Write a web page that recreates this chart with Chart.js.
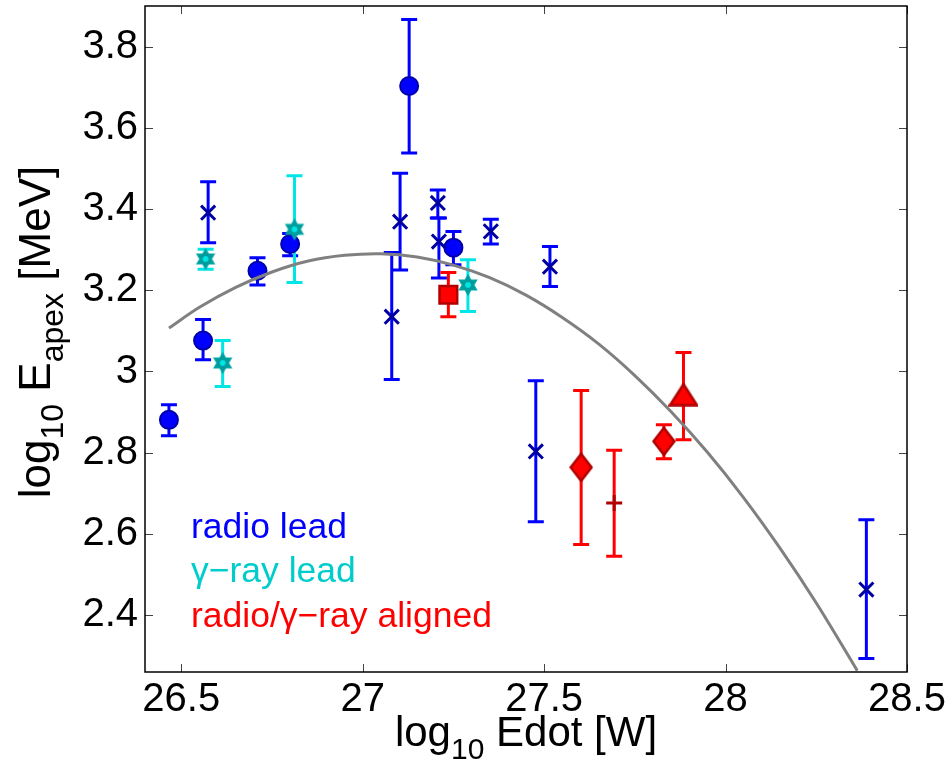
<!DOCTYPE html>
<html><head><meta charset="utf-8">
<script src="https://cdn.jsdelivr.net/npm/chart.js@4/dist/chart.umd.min.js"></script>
<style>html,body{margin:0;padding:0;background:#fff;overflow:hidden}#wrap{width:948px;height:767px;position:relative}</style>
</head><body><div id="wrap"><canvas id="c" width="948" height="767"></canvas></div>
<script>
const FONT = '"Liberation Sans", Arial, Helvetica, sans-serif';

// radio lead: circles
const radioCircX  = [26.466, 26.560, 26.710, 26.800, 27.128, 27.250];
const radioCircY  = [2.881, 3.076, 3.248, 3.314, 3.703, 3.305];
const radioCircLo = [2.842, 3.029, 3.213, 3.285, 3.538, 3.263];
const radioCircHi = [2.918, 3.128, 3.280, 3.340, 3.867, 3.345];
// radio lead: crosses
const radioXX  = [26.574, 27.080, 27.103, 27.207, 27.210, 27.353, 27.516, 27.477, 28.388];
const radioXY  = [3.391, 3.135, 3.369, 3.415, 3.320, 3.345, 3.258, 2.803, 2.463];
const radioXLo = [3.317, 2.980, 3.250, 3.378, 3.230, 3.314, 3.209, 2.630, 2.293];
const radioXHi = [3.467, 3.293, 3.488, 3.447, 3.378, 3.375, 3.308, 2.977, 2.635];
// gamma-ray lead: stars
const gammaX  = [26.567, 26.614, 26.812, 27.290];
const gammaY  = [3.277, 3.021, 3.350, 3.213];
const gammaLo = [3.252, 2.963, 3.219, 3.148];
const gammaHi = [3.301, 3.076, 3.482, 3.275];
// radio/gamma-ray aligned
const alignX  = [27.236, 27.602, 27.693, 27.830, 27.884];
const alignY  = [3.189, 2.764, 2.676, 2.828, 2.943];
const alignLo = [3.135, 2.574, 2.545, 2.785, 2.832];
const alignHi = [3.244, 2.953, 2.806, 2.869, 3.047];
const alignShape = ['square', 'diamond', 'plus', 'diamond', 'triangle'];
// fitted curve
const fitX = [26.466, 26.55, 26.65, 26.75, 26.85, 26.95, 27.05, 27.15, 27.25, 27.35, 27.45, 27.55, 27.65, 27.75, 27.85, 27.95, 28.05, 28.15, 28.25, 28.35, 28.363];
const fitY = [3.107, 3.158, 3.207, 3.245, 3.272, 3.286, 3.290, 3.282, 3.262, 3.231, 3.188, 3.133, 3.068, 2.990, 2.901, 2.801, 2.689, 2.565, 2.430, 2.283, 2.263];
// ticks
const xTicks = [26.5, 27, 27.5, 28, 28.5];
const yTicks = [2.4, 2.6, 2.8, 3, 3.2, 3.4, 3.6, 3.8];
const legendLabels = ['radio lead', 'γ\u2212ray lead', 'radio/γ\u2212ray aligned'];

function makeImg(w, h, draw) {
  const c = document.createElement('canvas'); c.width = w; c.height = h;
  draw(c.getContext('2d'), w, h); return c;
}
function hexPath(g, cx, cy, R, r) {
  g.beginPath();
  for (let k = 0; k < 12; k++) {
    const a = -Math.PI / 2 + k * Math.PI / 6, rr = k % 2 === 0 ? R : r;
    const px = cx + rr * Math.cos(a), py = cy + rr * Math.sin(a);
    k ? g.lineTo(px, py) : g.moveTo(px, py);
  }
  g.closePath();
}
const starImg = makeImg(24, 24, g => {
  hexPath(g, 12, 12, 10, 10 / Math.sqrt(3));
  g.fillStyle = '#009c9c'; g.fill();
  g.lineWidth = 1.2; g.strokeStyle = '#00a8a8'; g.stroke();
  g.beginPath();
  for (let k = 0; k < 6; k++) {
    const a = k * Math.PI / 3, px = 12 + 3.2 * Math.cos(a), py = 12 + 3.2 * Math.sin(a);
    k ? g.lineTo(px, py) : g.moveTo(px, py);
  }
  g.closePath(); g.fillStyle = '#00e6e6'; g.fill();
});
const diamondImg = makeImg(24, 30, g => {
  g.beginPath(); g.moveTo(12, 1.5); g.lineTo(22.5, 15); g.lineTo(12, 28.5); g.lineTo(1.5, 15); g.closePath();
  g.fillStyle = '#ff0000'; g.fill(); g.lineWidth = 2.5; g.strokeStyle = '#b00000'; g.stroke();
});
const triImg = makeImg(30, 24, g => {
  g.beginPath(); g.moveTo(15, 1.5); g.lineTo(28.5, 22.5); g.lineTo(1.5, 22.5); g.closePath();
  g.fillStyle = '#ff0000'; g.fill(); g.lineWidth = 2.5; g.strokeStyle = '#b00000'; g.lineJoin = 'miter'; g.stroke();
});
const shapeStyle = { square: 'rect', diamond: diamondImg, plus: 'cross', triangle: triImg };
const shapeRadius = { square: 12.5, diamond: 12, plus: 8, triangle: 12 };

const pts = (xs, ys) => xs.map((x, i) => ({ x: x, y: ys[i] }));

function drawErr(ctx, sx, sy, xs, lo, hi, color) {
  ctx.save();
  ctx.strokeStyle = color; ctx.lineWidth = 3; ctx.lineCap = 'butt';
  for (let i = 0; i < xs.length; i++) {
    const px = sx.getPixelForValue(xs[i]);
    const p1 = sy.getPixelForValue(lo[i]), p2 = sy.getPixelForValue(hi[i]);
    ctx.beginPath();
    ctx.moveTo(px, p1); ctx.lineTo(px, p2);
    ctx.moveTo(px - 8, p1); ctx.lineTo(px + 8, p1);
    ctx.moveTo(px - 8, p2); ctx.lineTo(px + 8, p2);
    ctx.stroke();
  }
  ctx.restore();
}

function drawParts(ctx, parts, cx, baseY) {
  let total = 0;
  parts.forEach(p => { ctx.font = p.s + 'px ' + FONT; p.w = ctx.measureText(p.t).width; total += p.w; });
  let x = cx - total / 2;
  ctx.textAlign = 'left'; ctx.textBaseline = 'alphabetic';
  parts.forEach(p => { ctx.font = p.s + 'px ' + FONT; ctx.fillText(p.t, x, baseY + p.dy); x += p.w; });
}

const framePlugin = {
  id: 'frame',
  beforeDatasetsDraw(chart) {
    const ctx = chart.ctx, sx = chart.scales.x, sy = chart.scales.y, a = chart.chartArea;
    ctx.save();
    ctx.beginPath(); ctx.rect(a.left, a.top, a.right - a.left, a.bottom - a.top); ctx.clip();
    drawErr(ctx, sx, sy, radioCircX, radioCircLo, radioCircHi, '#0000ff');
    drawErr(ctx, sx, sy, radioXX, radioXLo, radioXHi, '#0000ff');
    drawErr(ctx, sx, sy, gammaX, gammaLo, gammaHi, '#00e6e6');
    drawErr(ctx, sx, sy, alignX, alignLo, alignHi, '#ff0000');
    ctx.restore();
  },
  afterDraw(chart) {
    const ctx = chart.ctx, sx = chart.scales.x, sy = chart.scales.y, a = chart.chartArea;
    ctx.save();
    // tick marks (inward, all four sides)
    ctx.strokeStyle = '#444'; ctx.lineWidth = 1;
    xTicks.forEach(v => {
      const px = Math.round(sx.getPixelForValue(v)) + 0.5;
      ctx.beginPath(); ctx.moveTo(px, a.bottom); ctx.lineTo(px, a.bottom - 8);
      ctx.moveTo(px, a.top); ctx.lineTo(px, a.top + 8); ctx.stroke();
    });
    yTicks.forEach(v => {
      const py = Math.round(sy.getPixelForValue(v)) + 0.5;
      ctx.beginPath(); ctx.moveTo(a.left, py); ctx.lineTo(a.left + 8, py);
      ctx.moveTo(a.right, py); ctx.lineTo(a.right - 8, py); ctx.stroke();
    });
    // box
    ctx.strokeStyle = '#000'; ctx.lineWidth = 1.5;
    ctx.strokeRect(a.left, a.top, a.right - a.left, a.bottom - a.top);
    // in-plot legend text
    const legColors = ['#0000ff', '#00cccc', '#ff0000'];
    const legBase = [538, 582, 627];
    ctx.font = '35.5px ' + FONT; ctx.textAlign = 'left'; ctx.textBaseline = 'alphabetic';
    legendLabels.forEach((t, i) => { ctx.fillStyle = legColors[i]; ctx.fillText(t, 191, legBase[i]); });
    // axis titles
    ctx.fillStyle = '#000';
    drawParts(ctx, [{ t: 'log', s: 42, dy: 0 }, { t: '10', s: 30, dy: 13 }, { t: ' Edot [W]', s: 42, dy: 0 }],
      (a.left + a.right) / 2, 746);
    ctx.translate(50, 332);
    ctx.rotate(-Math.PI / 2);
    drawParts(ctx, [{ t: 'log', s: 44, dy: 0 }, { t: '10', s: 32, dy: 13 }, { t: ' E', s: 44, dy: 0 },
      { t: 'apex', s: 32, dy: 13 }, { t: ' [MeV]', s: 44, dy: 0 }], 0, 0);
    ctx.restore();
  }
};

new Chart(document.getElementById('c'), {
  type: 'scatter',
  data: {
    datasets: [
      { type: 'line', label: 'fit', data: pts(fitX, fitY), borderColor: '#808080', borderWidth: 3,
        pointRadius: 0, fill: false, tension: 0.3, order: 0 },
      { label: 'aligned', data: pts(alignX, alignY), order: 1,
        pointStyle: alignShape.map(s => shapeStyle[s]), pointRadius: alignShape.map(s => shapeRadius[s]),
        backgroundColor: '#ff0000', borderColor: '#b00000',
        borderWidth: alignShape.map(s => s === 'plus' ? 3 : 2.5) },
      { label: 'gamma', data: pts(gammaX, gammaY), order: 2, pointStyle: starImg, pointRadius: 10 },
      { label: 'radio x', data: pts(radioXX, radioXY), order: 3, pointStyle: 'crossRot', pointRadius: 10,
        borderColor: '#0000a0', borderWidth: 3 },
      { label: 'radio o', data: pts(radioCircX, radioCircY), order: 4, pointStyle: 'circle', pointRadius: 9,
        backgroundColor: '#0000ff', borderColor: '#0000a8', borderWidth: 2 }
    ]
  },
  options: {
    responsive: false, animation: false, events: [],
    layout: { autoPadding: false, padding: { left: 0, right: 41, top: 6, bottom: 0 } },
    plugins: { legend: { display: false }, tooltip: { enabled: false } },
    scales: {
      x: {
        type: 'linear', min: 26.4, max: 28.5,
        afterBuildTicks: s => { s.ticks = xTicks.map(v => ({ value: v })); },
        afterFit: s => { s.height = 95; s.paddingLeft = 0; s.paddingRight = 0; },
        ticks: { callback: v => String(v), color: '#000', font: { family: FONT, size: 40 }, padding: 4, maxRotation: 0, autoSkip: false },
        grid: { display: false, drawTicks: false }, border: { display: false }
      },
      y: {
        type: 'linear', min: 2.26, max: 3.9,
        afterBuildTicks: s => { s.ticks = yTicks.map(v => ({ value: v })); },
        afterFit: s => { s.width = 145; s.paddingTop = 0; s.paddingBottom = 0; },
        ticks: { callback: v => String(v), color: '#000', font: { family: FONT, size: 40 }, padding: 7, autoSkip: false },
        grid: { display: false, drawTicks: false }, border: { display: false }
      }
    }
  },
  plugins: [framePlugin]
});
</script></body></html>
